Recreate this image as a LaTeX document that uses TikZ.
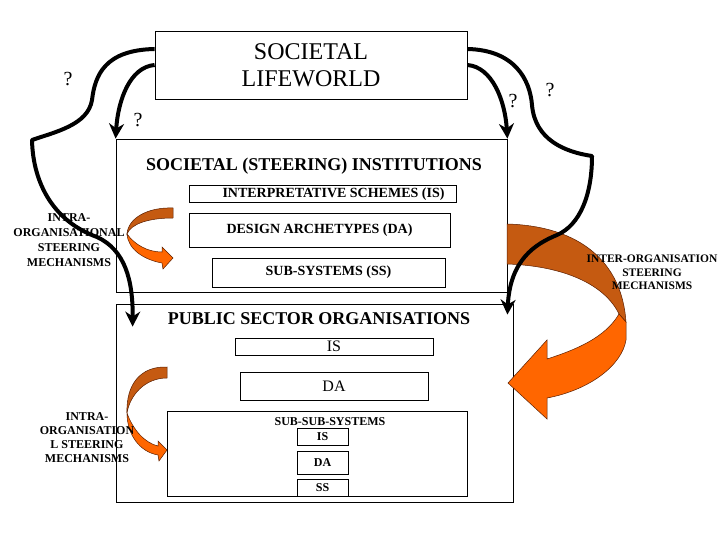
\documentclass[tikz,border=0pt]{standalone}
\usepackage{fontspec}
\setmainfont{Liberation Serif}
\usepackage{xcolor}
\usetikzlibrary{arrows.meta}
\definecolor{mybrown}{RGB}{197,90,17}
\definecolor{myorange}{RGB}{255,102,0}
\definecolor{myedge}{RGB}{90,30,0}

\begin{document}
\begin{tikzpicture}[x=1pt,y=-1pt,
  box/.style={draw, line width=0.8pt, inner sep=0pt},
  flow/.style={line width=4pt, line join=round, -{Stealth[length=15pt,width=15pt]}},
  back/.style={fill=mybrown, draw=myedge, line width=0.5pt},
  front/.style={fill=myorange, draw=myedge, line width=0.5pt},
  hd/.style={font=\fontsize{18}{20}\selectfont\bfseries},
  sm/.style={font=\fontsize{14}{16}\selectfont\bfseries},
  tiny/.style={font=\fontsize{12}{14}\selectfont\bfseries},
  reg/.style={font=\fontsize{16}{18}\selectfont},
  lbl/.style={align=center, inner sep=0pt},
  q/.style={font=\fontsize{20}{22}\selectfont}]
\useasboundingbox (0,0) rectangle (720,540);

\node[box, align=center, font=\fontsize{24}{27}\selectfont, minimum width=312pt, minimum height=68pt] (life) at (311,65) {SOCIETAL\\LIFEWORLD};

\node[box, minimum width=391pt, minimum height=153pt] (inst) at (311.5,215.5) {};
\node[hd] (insttitle) at (314,166) {SOCIETAL (STEERING) INSTITUTIONS};
\node[box, minimum width=267pt, minimum height=17pt, label={[sm, xshift=11pt, yshift=-1pt]center:INTERPRETATIVE SCHEMES (IS)}] (instis) at (322.5,193.5) {};
\node[box, sm, minimum width=261pt, minimum height=34pt] (instda) at (319.5,230) {DESIGN ARCHETYPES (DA)};
\node[box, sm, minimum width=233pt, minimum height=29pt] (instss) at (328.5,272.5) {SUB-SYSTEMS (SS)};

\node[box, minimum width=397pt, minimum height=198pt] (pso) at (314.5,403) {};
\node[hd] (psotitle) at (319,319) {PUBLIC SECTOR ORGANISATIONS};
\node[box, reg, minimum width=198pt, minimum height=17pt] (psois) at (334,346.5) {IS};
\node[box, reg, minimum width=188pt, minimum height=28pt] (psoda) at (334,386) {DA};
\node[box, minimum width=300pt, minimum height=85pt] (sss) at (317,453.5) {};
\node[tiny] (ssstitle) at (330,421.5) {SUB-SUB-SYSTEMS};
\node[box, tiny, minimum width=51pt, minimum height=17pt] (sssis) at (322.5,436.5) {IS};
\node[box, tiny, minimum width=51pt, minimum height=23pt] (sssda) at (322.5,462.5) {DA};
\node[box, tiny, minimum width=51pt, minimum height=17pt] (sssss) at (322.5,487.5) {SS};

\draw[back] (173,208) .. controls (148,207) and (128,218) .. (127,234) .. controls (131,224) and (148,218) .. (173,218) -- cycle;
\draw[front] (127,234) .. controls (135,245) and (148,252) .. (162,252) -- (162,247) -- (173,258) -- (163,269) -- (162,263) .. controls (145,260) and (128,250) .. (127,234) -- cycle;

\draw[back] (167,367) .. controls (140,366) and (126,385) .. (127,413) .. controls (130,395) and (145,378) .. (167,378) -- cycle;
\draw[front] (127,413) .. controls (133,430) and (145,443) .. (158,446) -- (158,441) -- (167,450) -- (159,461) -- (158,455) .. controls (140,452) and (127,435) .. (127,413) -- cycle;

\draw[back] (507,224) .. controls (580,226) and (622,262) .. (626,322) -- (619,314) .. controls (605,285) and (565,266) .. (507,264) -- cycle;
\draw[front] (619,314) .. controls (605,338) and (575,350) .. (547,359) -- (547,340) -- (508,383) -- (547,419) -- (547,398) .. controls (590,390) and (622,365) .. (626,340) -- (626,322) -- cycle;

\node[lbl, font=\fontsize{12}{15}\selectfont\bfseries] (intra1) at (69,240.5) {INTRA-\\ORGANISATIONAL\\STEERING\\MECHANISMS};
\node[lbl, font=\fontsize{12}{14}\selectfont\bfseries] (intra2) at (87,438) {INTRA-\\ORGANISATION\\L STEERING\\MECHANISMS};
\node[lbl, font=\fontsize{11.5}{13.5}\selectfont\bfseries] (inter) at (652,272.5) {INTER-ORGANISATION\\STEERING\\MECHANISMS};

\node[q] (q1) at (68,79) {?};
\node[q] (q2) at (138,120) {?};
\node[q] (q3) at (513,101) {?};
\node[q] (q4) at (550,90) {?};

\draw[flow] ([yshift=16pt]life.west) .. controls (105,50) and (95,75) .. (92,100) .. controls (88,125) and (55,132) .. (32,140) .. controls (33,185) and (55,222) .. (97,237) .. controls (125,250) and (133,280) .. ([xshift=17pt,yshift=-23pt]pso.north west);
\draw[flow] (life.west) .. controls (130,67) and (118,100) .. (inst.north west);
\draw[flow] (life.east) .. controls (492,67) and (505,100) .. (inst.north east);
\draw[flow] ([yshift=16pt]life.east) .. controls (515,50) and (530,80) .. (532,105) .. controls (535,140) and (565,152) .. (592,156) .. controls (592,195) and (580,225) .. (557,235) .. controls (535,244) and (510,260) .. ([xshift=-6pt,yshift=-11pt]pso.north east);
\end{tikzpicture}
\end{document}
